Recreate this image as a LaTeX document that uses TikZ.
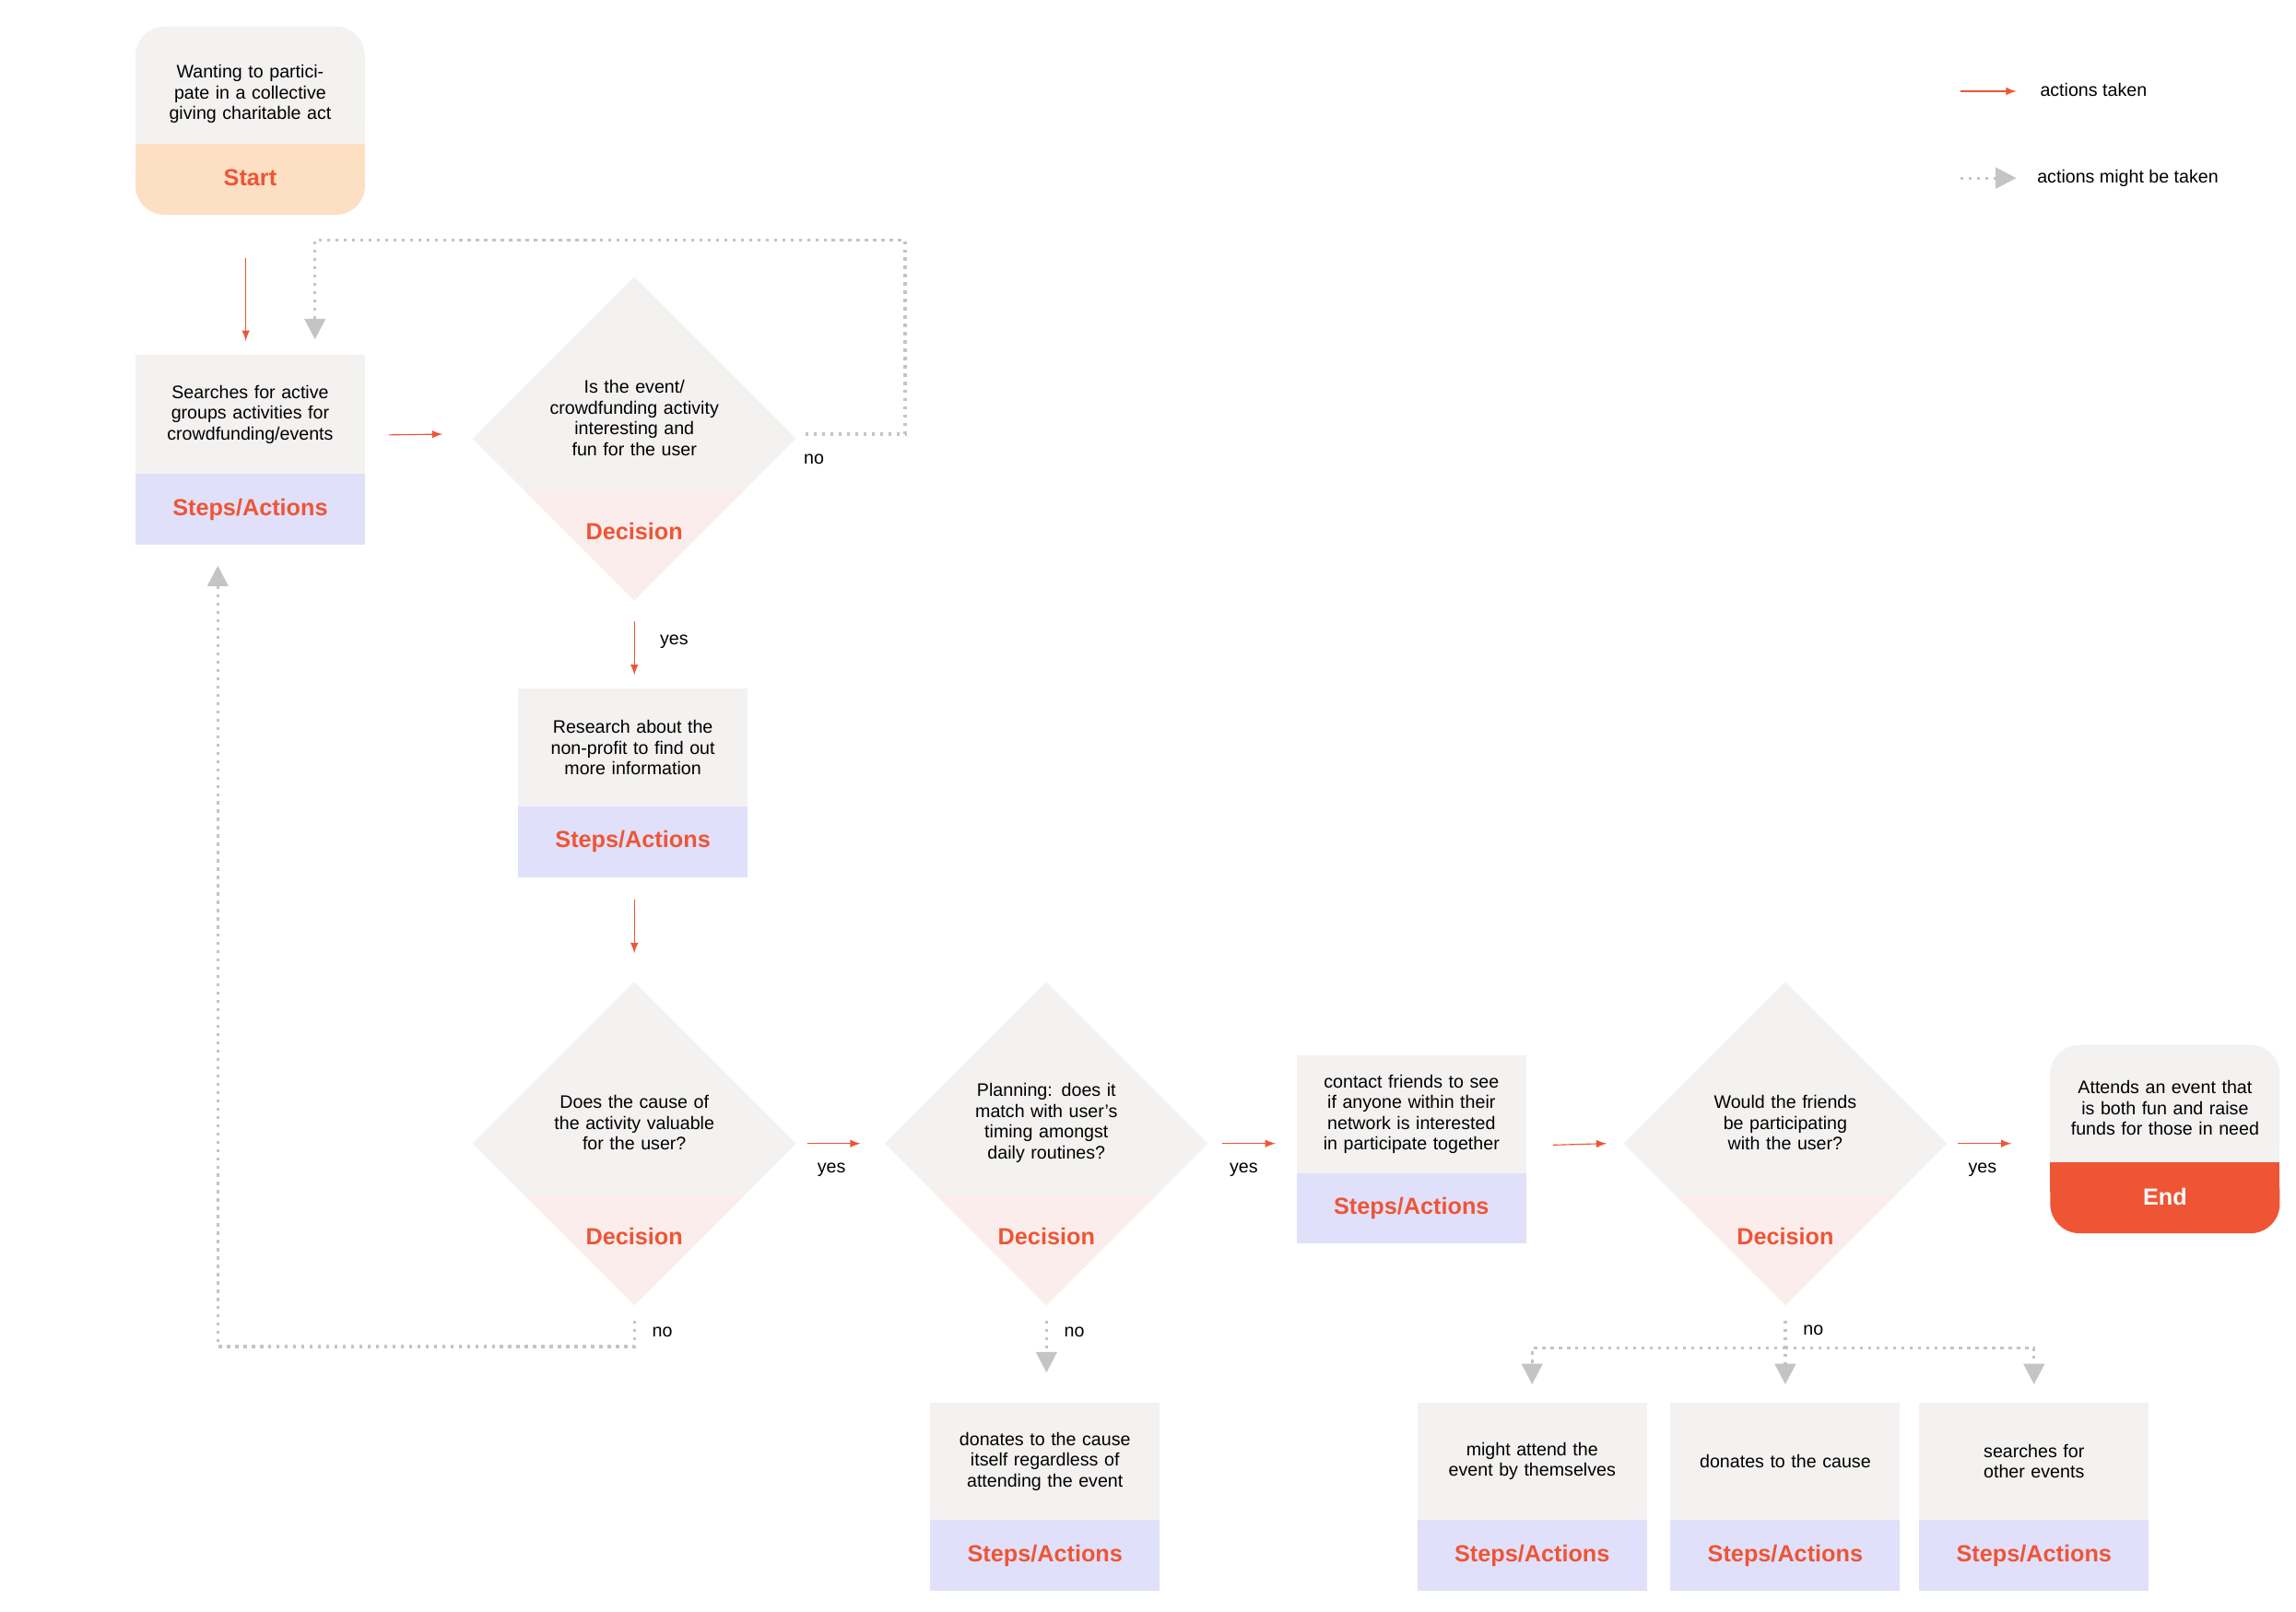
\documentclass[tikz,border=0pt]{standalone}
\usepackage{fontspec}
\setmainfont{Liberation Sans}
\usetikzlibrary{shapes.geometric,calc}
\definecolor{cardgray}{HTML}{F4F2F1}
\definecolor{lav}{HTML}{E1E0FA}
\definecolor{peach}{HTML}{FDDFC4}
\definecolor{pinkish}{HTML}{FCEDED}
\definecolor{orred}{HTML}{EE5535}
\definecolor{dotgray}{HTML}{C4C4C4}

\tikzset{
  txt/.style={font=\fontsize{7}{8}\selectfont, align=center, text width=2.6cm},
  lab/.style={font=\fontsize{9}{10}\selectfont\bfseries, text=orred},
  frame/.style={minimum width=3.12cm, inner sep=0pt},
  diam/.style={diamond, shape aspect=1, minimum size=4.4cm, inner sep=0pt, fill=cardgray},
  act/.style={draw=orred, thin, -latex, shorten >=0pt},
  might/.style={draw=dotgray, line width=1.2pt, dotted, -{Triangle[open=false,fill=dotgray,length=8pt,width=8pt]}},
  tag/.style={font=\fontsize{7}{8}\selectfont}
}
\usetikzlibrary{arrows.meta}

% card: name, centre x, top, split, bottom, text, colour, label
\newcommand\card[8]{%
  \fill[cardgray] (#2-78,#3) rectangle (#2+78,#4);
  \fill[#7] (#2-78,#4) rectangle (#2+78,#5);
  \node[frame, minimum height={(#5-#3)*0.02cm}] (#1) at (#2,{(#3+#5)/2}) {};
  \node[txt] (#1-t) at (#2,{(#3+#4)/2}) {#6};
  \node[lab] (#1-l) at (#2,{(#4+#5)/2}) {#8};
}
% decision: name, x, y, text
\newcommand\decide[4]{%
  \node[diam] (#1) at (#2,#3) {};
  \begin{scope}
    \clip (#2-110,#3) -- (#2,#3-110) -- (#2+110,#3) -- (#2,#3+110) -- cycle;
    \fill[pinkish] (#2-110,#3+35) rectangle (#2+110,#3+110);
  \end{scope}
  \node[txt, text width=2.3cm] (#1-t) at (#2,#3-14) {#4};
  \node[lab] (#1-l) at (#2,#3+63) {Decision};
}

\begin{document}
\begin{tikzpicture}[x=0.02cm, y=-0.02cm]
  \useasboundingbox (0,0) rectangle (1560,1095);

  % Start
  \fill[cardgray, rounded corners=0.4cm] (92,18) rectangle (248,98);
  \fill[peach, rounded corners=0.4cm] (92,98) rectangle (248,146);
  \fill[cardgray] (92,78) rectangle (248,98);
  \fill[peach] (92,98) rectangle (248,118);
  \node[frame, minimum height=2.56cm] (start) at (170,82) {};
  \node[txt] (start-t) at (170,64) {Wanting to participate in a collective giving charitable act};
  \node[lab] (start-l) at (170,121) {Start};

  % End
  \fill[cardgray, rounded corners=0.4cm] (1393,710) rectangle (1549,790);
  \fill[orred, rounded corners=0.4cm] (1393,790) rectangle (1549,838);
  \fill[cardgray] (1393,770) rectangle (1549,790);
  \fill[orred] (1393,790) rectangle (1549,810);
  \node[frame, minimum height=2.56cm] (end) at (1471,774) {};
  \node[txt] (end-t) at (1471,753) {Attends an event that is both fun and raise funds for those in need};
  \node[lab, text=white] (end-l) at (1471,813) {End};

  % Steps
  \card{search}{170}{241}{322}{370}{Searches for active groups activities for crowdfunding/events}{lav}{Steps/Actions}
  \card{research}{430}{468}{548}{596}{Research about the non-profit to find out more information}{lav}{Steps/Actions}
  \card{contact}{959}{717}{797}{845}{contact friends to see if anyone within their network is interested in participate together}{lav}{Steps/Actions}
  \card{donate}{710}{953}{1033}{1081}{donates to the cause itself regardless of attending the event}{lav}{Steps/Actions}
  \card{alone}{1041}{953}{1033}{1081}{might attend the event by themselves}{lav}{Steps/Actions}
  \card{cause}{1213}{953}{1033}{1081}{donates to the cause}{lav}{Steps/Actions}
  \card{other}{1382}{953}{1033}{1081}{searches for other events}{lav}{Steps/Actions}

  % Decisions
  \decide{fun}{431}{298}{Is the event/ crowdfunding activity interesting and fun for the user}
  \decide{value}{431}{777}{Does the cause of the activity valuable for the user?}
  \decide{timing}{711}{777}{Planning: does it match with user's timing amongst daily routines?}
  \decide{friends}{1213}{777}{Would the friends be participating with the user?}

  % actions taken
  \draw[act, shorten <=17\pgflinewidth] ($(start.south)+(-3,17)$) -- ($(search.north)+(-3,-9)$);
  \draw[act] ($(search.east)+(16,-10)$) -- ($(fun.west)+(-20,-3)$);
  \draw[act] ($(fun.south)+(0,14)$) -- ($(research.north)+(1,-9)$);
  \draw[act] ($(research.south)+(1,15)$) -- ($(value.north)+(0,-19)$);
  \draw[act] ($(value.east)+(7,0)$) -- ($(timing.west)+(-16,0)$);
  \draw[act] ($(timing.east)+(9,0)$) -- ($(contact.west)+(-14,-4)$);
  \draw[act] ($(contact.east)+(18,-3)$) -- ($(friends.west)+(-11,0)$);
  \draw[act] ($(friends.east)+(7,0)$) -- ($(end.west)+(-26,3)$);

  % actions might be taken
  \coordinate (c1) at (615,295);
  \coordinate (c2) at (615,163);
  \coordinate (c3) at (214,163);
  \draw[might] ($(fun.east)+(6,-3)$) -- (c1) -- (c2) -- (c3) -- ($(search.north)+(44,-10)$);
  \coordinate (c4) at (431,915);
  \coordinate (c5) at (148,915);
  \draw[might] ($(value.south)+(0,10)$) -- (c4) -- (c5) -- ($(search.south)+(-22,14)$);
  \draw[might] ($(timing.south)+(0,10)$) -- ($(donate.north)+(1,-20)$);
  \coordinate (c6) at (1213,916);
  \coordinate (c7) at (1041,916);
  \coordinate (c8) at (1382,916);
  \draw[might] ($(friends.south)+(0,10)$) -- (c6) -- ($(cause.north)+(0,-12)$);
  \draw[might] (c6) -- (c7) -- ($(alone.north)+(0,-12)$);
  \draw[might] (c6) -- (c8) -- ($(other.north)+(0,-12)$);

  % Labels
  \node[tag] (no1) at (553,312) {no};
  \node[tag] (yes1) at (458,436) {yes};
  \node[tag] (yes2) at (565,795) {yes};
  \node[tag] (yes3) at (845,795) {yes};
  \node[tag] (yes4) at (1347,795) {yes};
  \node[tag] (no2) at (450,905) {no};
  \node[tag] (no3) at (730,905) {no};
  \node[tag] (no4) at (1232,904) {no};

  % Legend
  \coordinate (la) at (1332,62);
  \coordinate (lb) at (1370,62);
  \draw[act] (la) -- (lb);
  \node[tag, anchor=west] (leg1) at (1380,61) {actions taken};
  \coordinate (lc) at (1332,121);
  \coordinate (ld) at (1370,121);
  \draw[might] (lc) -- (ld);
  \node[tag, anchor=west] (leg2) at (1378,121) {actions might be taken};
\end{tikzpicture}
\end{document}
